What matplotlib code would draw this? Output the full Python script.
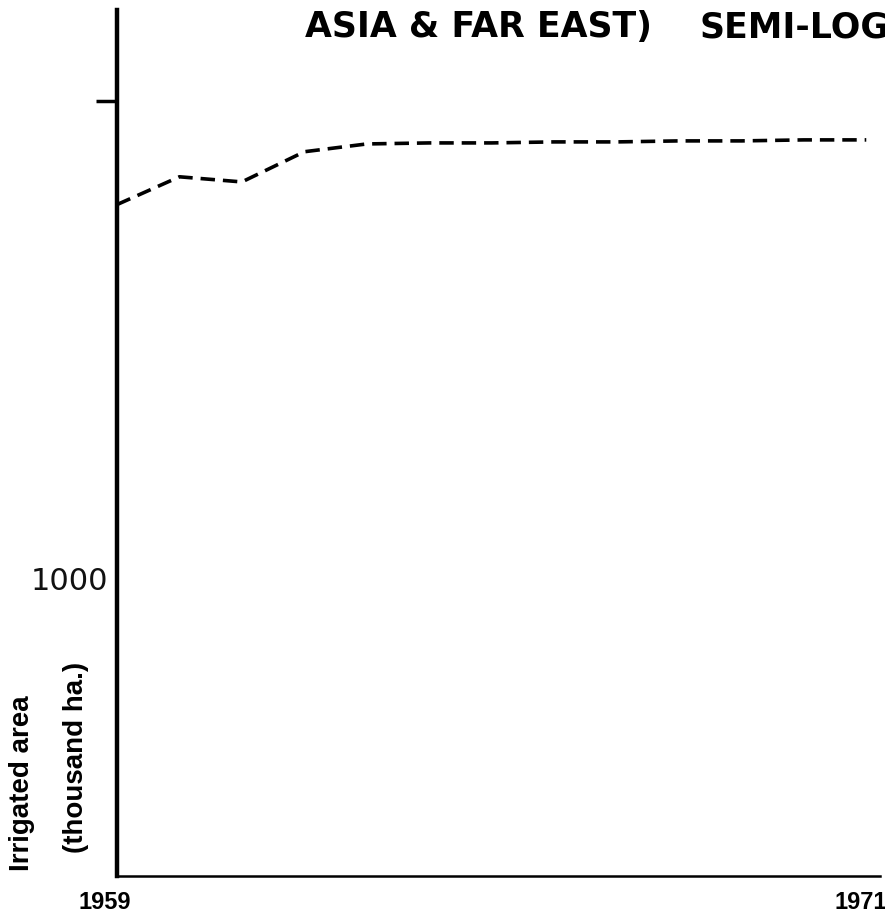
import numpy as np
import matplotlib.pyplot as plt
from matplotlib.ticker import NullLocator
from matplotlib.transforms import ScaledTranslation

# irrigated area, thousand ha
years = [1959, 1960, 1961, 1962, 1963, 1964, 1965, 1966, 1967, 1968, 1969, 1970, 1971]
area = [6070, 6940, 6770, 7830, 8130, 8170, 8170, 8210, 8210, 8250, 8250, 8290, 8290]

ytick_vals = [1000, 10000]
ytick_labels = ['1000', '']
xtick_vals = [1959, 1971]
xtick_labels = ['1959', '1971']

fig = plt.figure(figsize=(8.85, 9.21), dpi=100)
ax = fig.add_axes([117 / 885, 45 / 921, 763 / 885, 866 / 921])

ax.plot(years, area, color='black', linestyle=(0, (4, 2.2)), linewidth=2.6)

ax.set_yscale('log')
ax.set_ylim(239, 15500)
ax.set_xlim(1959, 1971.22)

ax.set_yticks(ytick_vals)
ax.set_yticklabels(ytick_labels, fontsize=22, family='DejaVu Sans', color='#111111')
ax.yaxis.set_minor_locator(NullLocator())
ax.tick_params(axis='y', length=15, width=2.5, pad=-8.5)
ax.yaxis.get_major_ticks()[0].tick1line.set_visible(False)

ax.set_xticks(xtick_vals)
ax.set_xticklabels(xtick_labels, fontsize=17, fontweight='bold', family='Liberation Sans')
ax.tick_params(axis='x', length=0, pad=11)
# nudge the year labels left, as in the original
for lab, dx in zip(ax.get_xticklabels(), [-12, -6]):
    lab.set_transform(lab.get_transform() + ScaledTranslation(dx / 100, 0, fig.dpi_scale_trans))

for s in ['top', 'right']:
    ax.spines[s].set_visible(False)
ax.spines['left'].set_linewidth(3.2)
ax.spines['bottom'].set_linewidth(1.8)

fig.text(22 / 885, 1 - 783 / 921, 'Irrigated area', rotation=90, fontsize=20,
         fontweight='bold', family='Liberation Sans', ha='center', va='center')
fig.text(76 / 885, 1 - 757 / 921, '(thousand ha.)', rotation=90, fontsize=20,
         fontweight='bold', family='Liberation Sans', ha='center', va='center')

fig.text(305 / 885, 1 - 27 / 921, 'ASIA & FAR EAST)', fontsize=25,
         fontweight='bold', family='DejaVu Sans', ha='left', va='center')
fig.text(700 / 885, 1 - 27 / 921, 'SEMI-LOG', fontsize=25,
         fontweight='bold', family='DejaVu Sans', ha='left', va='center')

fig.savefig('out.png', dpi=100)
